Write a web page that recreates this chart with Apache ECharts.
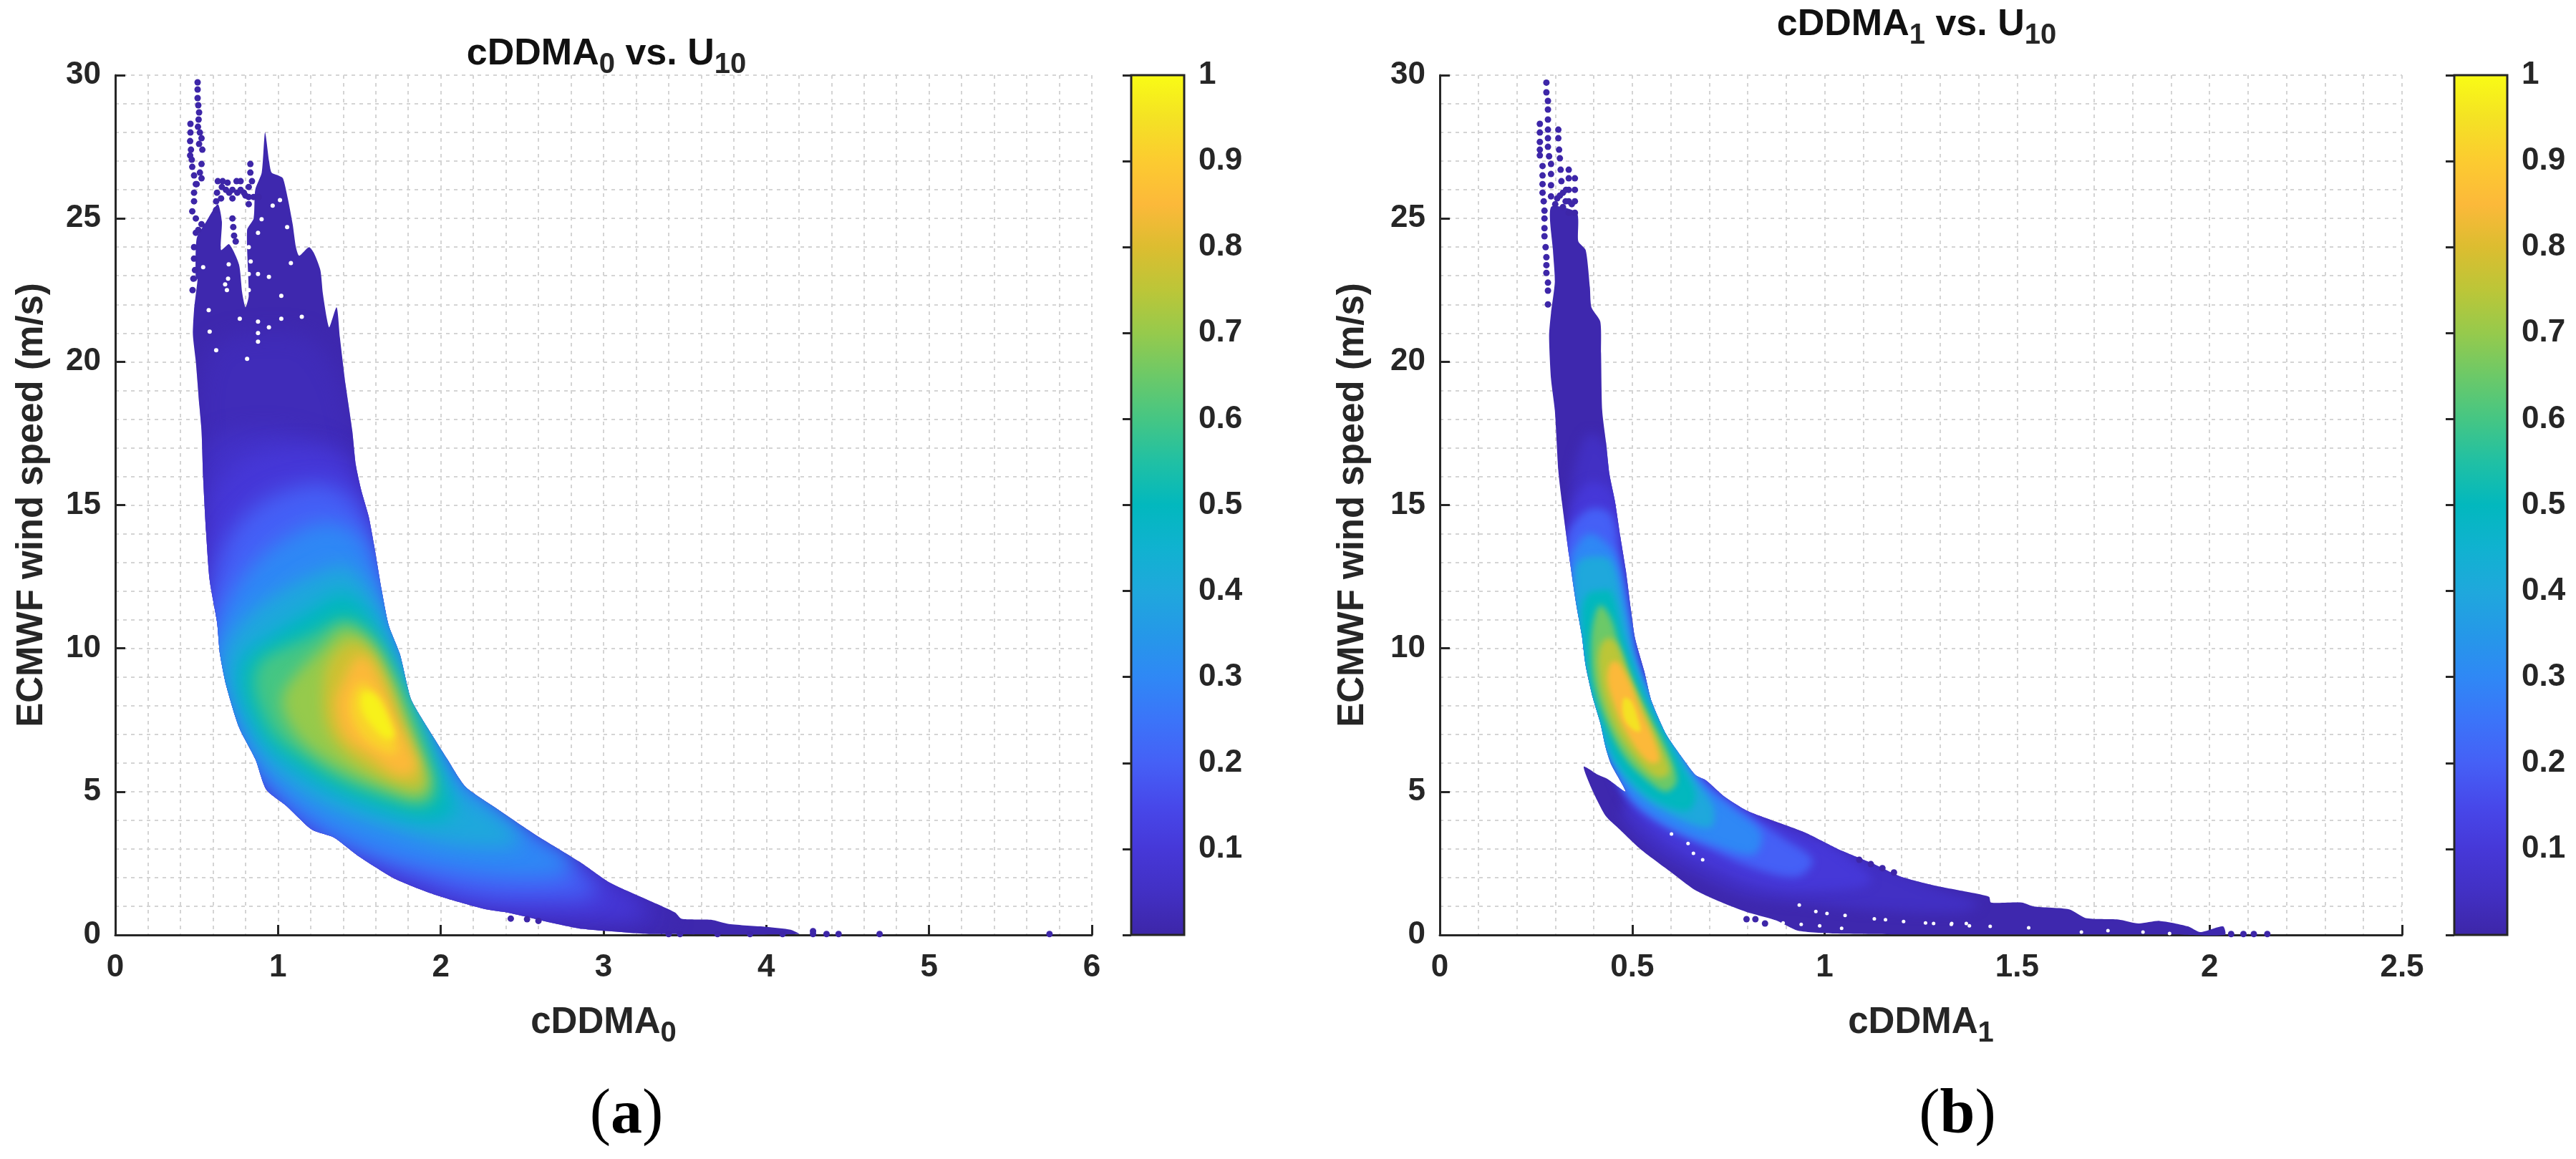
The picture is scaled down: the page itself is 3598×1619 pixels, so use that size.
<!DOCTYPE html>
<html><head><meta charset="utf-8"><style>html,body{margin:0;padding:0;background:#fff}#c{width:3598px;height:1619px}</style>
<script src="https://cdn.jsdelivr.net/npm/echarts@6/dist/echarts.min.js"></script></head><body><div id="c"></div>
<script>
// colormap stops, evenly spaced 0..1
const cmap=['#3d26a8','#4230c4','#4638d8','#4748ea','#4560f6','#3b74f9','#2f88f5','#2598e8','#1fa8dc','#10b2d0','#02b8be','#20c0a4','#45c684','#6cc968','#96ca4c','#bcc638','#dcbd30','#fcb93a','#fccb30','#f4e224','#f9fb15'];
const cbTicks=[0.1,0.2,0.3,0.4,0.5,0.6,0.7,0.8,0.9,1];

// Panel (a): iso-density outlines in data units [cDDMA0, U10]
const aLevels=[0.01,0.03,0.06,0.1,0.2,0.3,0.4,0.5,0.6,0.7,0.78,0.85,0.92,0.98];
const aBlur=[0,30,30,30,30,28,26,24,22,20,18,16,14,10];
const a001=[[.53,17.6],[.517,18.46],[.495,20],[.477,20.95],[.484,21.8],[.506,22.9],[.495,22.8],[.5,24.3],[.56,24.9],[.63,25.5],[.655,24.9],[.65,23.9],[.7,24.1],[.76,23.4],[.78,22.4],[.8,21.9],[.82,22.3],[.81,24.6],[.85,25],[.86,26],[.9,26.6],[.92,28],[.945,27],[.96,26.6],[1,26.5],[1.03,26.4],[1.06,25.7],[1.09,24.8],[1.11,24],[1.13,23.7],[1.19,24],[1.22,23.8],[1.26,23.2],[1.275,22.4],[1.3,21.5],[1.315,21.2],[1.36,21.9],[1.38,20.85],[1.415,19.2],[1.456,17.6],[1.478,16.4],[1.512,15.5],[1.557,14.6],[1.59,13.6],[1.636,12.05],[1.68,10.8],[1.748,9.81],[1.815,8.25],[1.88,7.58],[2.04,6.13],[2.15,5.18],[2.33,4.46],[2.58,3.5],[2.85,2.56],[3.03,1.85],[3.14,1.55],[3.3,1.15],[3.44,.78],[3.48,.56],[3.66,.53],[3.77,.38],[4,.28],[4.15,.18],[4.2,.03],[3.3,.03],[3.1,.1],[2.87,.21],[2.67,.44],[2.42,.77],[2.264,.91],[1.97,1.39],[1.725,1.94],[1.5,2.73],[1.344,3.4],[1.209,3.67],[1.05,4.51],[.928,5.07],[.861,6.13],[.76,7.25],[.682,8.7],[.643,9.81],[.625,10.93],[.58,12.38],[.558,14.05],[.54,15.95]];
const a003=[[.52,19],[.62,20.6],[.9,21],[1.2,20.8],[1.37,19.5],[1.46,17.6],[1.55,14.8],[1.64,12],[1.75,9.8],[1.88,7.6],[2.05,6.1],[2.33,4.45],[2.58,3.5],[2.85,2.55],[3.1,1.75],[3.3,1.15],[3.42,.75],[3.35,.3],[3.1,.15],[2.87,.22],[2.65,.45],[2.26,.92],[1.97,1.4],[1.72,1.95],[1.5,2.75],[1.34,3.4],[1.2,3.7],[1.05,4.5],[.93,5.1],[.86,6.1],[.76,7.25],[.68,8.7],[.64,9.8],[.62,10.9],[.58,12.4],[.555,14],[.54,16],[.525,17.6]];
const a006=[[.6,17.2],[.9,17.6],[1.2,17.3],[1.42,16.6],[1.5,15.4],[1.57,14],[1.63,12],[1.73,10],[1.86,8],[2.03,6.2],[2.3,4.6],[2.55,3.6],[2.8,2.7],[3.05,1.85],[3.2,1.25],[3.2,.85],[2.95,.55],[2.65,.6],[2.3,.95],[2,1.4],[1.75,1.95],[1.5,2.8],[1.35,3.45],[1.2,3.75],[1.06,4.5],[.94,5.2],[.87,6.2],[.77,7.3],[.69,8.7],[.65,9.8],[.62,11],[.59,12.4],[.565,14],[.55,16]];
const a010=[[1.187,16.96],[.85,16.73],[.625,15.62],[.569,14.05],[.57,12.38],[.59,10.48],[.65,8.6],[.73,7.1],[.88,5],[1.05,3.95],[1.33,2.9],[1.66,1.9],[2.08,1.15],[2.533,.8],[2.982,.66],[3.274,.66],[3.162,1.22],[2.848,2.22],[2.533,3.34],[2.242,4.57],[2.084,5.68],[1.9,7.8],[1.79,9.59],[1.67,11.6],[1.59,13.5],[1.5,15.5],[1.389,16.62]];
const a020=[[1.209,15.73],[.917,15.17],[.715,14.05],[.614,12.6],[.57,10.9],[.63,9],[.75,6.9],[.89,5.5],[1.12,4.05],[1.44,3],[1.8,2.1],[2.19,1.35],[2.646,1.22],[2.96,1.44],[2.87,2.22],[2.6,3.23],[2.309,4.46],[2.107,5.57],[1.94,7.47],[1.81,9.37],[1.72,11.15],[1.624,12.94],[1.523,14.72],[1.389,15.5]];
const a030=[[1.299,14.39],[1.074,13.94],[.85,12.94],[.67,11.38],[.6,9.8],[.68,8],[.81,6.3],[.97,5.1],[1.22,3.9],[1.55,2.95],[1.972,2.33],[2.421,2],[2.758,2.11],[2.803,2.56],[2.578,3.45],[2.331,4.46],[2.152,5.35],[1.995,6.8],[1.882,8.25],[1.77,9.92],[1.68,11.26],[1.59,12.94],[1.5,13.94]];
const a040=[[1.344,12.83],[1.03,12.04],[.782,10.93],[.67,9.81],[.681,8.81],[.782,7.36],[.895,6.24],[1.074,5.24],[1.344,4.34],[1.703,3.67],[2.107,3.12],[2.488,3.23],[2.331,4.23],[2.107,5.13],[1.972,6.46],[1.882,7.8],[1.77,9.37],[1.68,10.7],[1.568,12.04],[1.433,12.83]];
const a050=[[1.389,11.93],[1.209,11.38],[.94,10.37],[.782,9.59],[.76,8.7],[.827,7.58],[.94,6.58],[1.119,5.79],[1.344,5.01],[1.636,4.34],[1.927,3.95],[2.084,4.29],[2.04,5.13],[1.95,6.35],[1.838,7.8],[1.748,9.03],[1.636,10.37],[1.523,11.49]];
const a060=[[1.389,11.04],[1.209,10.48],[1.03,10.03],[.895,9.59],[.85,8.81],[.895,7.8],[.985,6.91],[1.164,6.13],[1.389,5.35],[1.658,4.79],[1.882,4.51],[1.972,4.9],[1.927,6.13],[1.838,7.58],[1.725,9.03],[1.59,10.37],[1.478,10.93]];
const a070=[[1.411,10.7],[1.276,10.03],[1.119,9.14],[1.03,8.36],[1.052,7.58],[1.164,6.68],[1.389,5.79],[1.658,5.13],[1.882,4.79],[1.927,5.35],[1.86,6.46],[1.77,7.8],[1.68,9.03],[1.568,10.15]];
const a078=[[1.456,10.26],[1.32,9.59],[1.276,8.47],[1.299,7.25],[1.411,6.35],[1.613,5.57],[1.815,5.13],[1.893,5.24],[1.87,6.02],[1.781,7.25],[1.68,8.81],[1.568,9.92]];
const a085=[[1.49,9.7],[1.389,8.7],[1.355,8.03],[1.411,6.91],[1.568,6.24],[1.748,5.57],[1.85,5.79],[1.815,6.46],[1.725,7.58],[1.636,8.81],[1.557,9.59]];
const a092=[[1.512,8.81],[1.445,8.14],[1.478,7.25],[1.59,6.58],[1.725,6.35],[1.703,7.13],[1.613,8.36]];
const a098=[[1.523,8.47],[1.602,8.36],[1.68,7.58],[1.714,6.91],[1.658,6.86],[1.568,7.36],[1.512,7.92]];
const aDots=[[.506,29.75],[.506,29.5],[.506,29.2],[.51,28.95],[.515,28.7],[.512,28.45],[.508,28.2],[.52,28],[.53,27.8],[.515,27.6],[.535,27.4],[.53,26.9],[.52,26.6],[.53,26.4],[.5,26.2],[.462,28.3],[.462,28],[.46,27.7],[.465,27.4],[.46,27.2],[.47,27.05],[.473,26.8],[.484,26.5],[.495,26.2],[.484,25.9],[.484,25.6],[.473,25.25],[.495,25],[.495,24.5],[.484,24],[.484,23.6],[.63,26.3],[.66,26.3],[.69,26.25],[.72,26],[.745,26.3],[.77,26.3],[.79,25.9],[.8,25.8],[.72,25.7],[.7,25.9],[.625,25.9],[.62,25.6],[.62,25.3],[.83,26.9],[.83,26.6],[.84,26.3],[.82,26.1],[.82,25.75],[.85,25.75],[.88,25.75],[.82,25.5],[.72,25],[.725,24.7],[.73,24.4],[.74,24.2],
[.48,22.9],[.475,22.5],[.49,23.2],[.51,24.6],[.53,24.8],[.655,26.1],[.68,26],[.75,25.9],[.77,26],[.65,25.7],
[2.43,.57],[2.53,.55],[2.6,.49],[4.287,.13],[4.287,.03],[4.37,.03],[4.444,.03],[4.696,.03],[5.74,.03],[3.4,.03],[3.47,.03],[3.7,.03],[3.9,.03],[4.1,.03]];
const aHoles=[[.574,21.8],[.58,21.05],[.877,20.7],[.944,21.2],[1.02,22.3],[1.02,21.5],[.765,21.5],[.693,22.9],[.54,23.3],[.675,22.7],[.686,22.5],[.832,23.5],[.877,23.06],[.944,22.96],[1.079,23.44],[.81,20.1],[.62,20.4],[1.146,21.57],[.899,24.97],[.877,24.5],[.967,25.45],[1.012,25.64],[1.056,24.7],[.697,23.4],[.82,23.06],[.82,22.5],[.82,24],[.877,21],[.877,21.4]];

// Panel (b)
const bLevels=[0.01,0.05,0.1,0.2,0.3,0.4,0.5,0.65,0.75,0.85,0.95];
const bBlur=[0,16,14,12,12,10,10,9,8,7,5];
const b001=[[.289,25.4],[.356,25.2],[.36,24.2],[.379,23.9],[.39,22.6],[.394,21.9],[.417,21.4],[.419,20.3],[.422,18.3],[.432,17.18],[.441,16.06],[.455,15.14],[.469,13.9],[.483,12.75],[.497,11.3],[.507,10.36],[.531,9.21],[.55,8.16],[.588,7],[.626,6.25],[.664,5.58],[.692,5.39],[.74,4.82],[.797,4.34],[.873,3.95],[.949,3.57],[1.034,3],[1.12,2.52],[1.196,2.04],[1.283,1.73],[1.379,1.48],[1.427,1.33],[1.432,1.13],[1.512,1.13],[1.544,.99],[1.635,.89],[1.678,.59],[1.763,.54],[1.816,.4],[1.87,.49],[1.944,.3],[1.976,.1],[2.035,.3],[2.04,0],[1.9,.02],[1.2,.02],[1.025,.05],[.93,.15],[.873,.51],[.797,.8],[.74,1.09],[.664,1.56],[.597,2.23],[.521,3],[.464,3.72],[.431,4.15],[.398,5],[.374,5.87],[.412,5.58],[.436,5.44],[.483,5],[.445,5.96],[.431,6.54],[.417,7.4],[.398,8.26],[.379,9.4],[.369,10.46],[.355,11.5],[.336,13.23],[.317,15.14],[.308,16.2],[.299,18.3],[.289,19.4],[.284,20.9],[.289,21.7],[.299,22.8],[.294,23.9]];
const b005=[[.39,17.5],[.46,16.5],[.48,14],[.51,11],[.55,8.8],[.62,6.3],[.7,5.2],[.8,4.4],[.95,3.5],[1.12,2.6],[1.28,1.7],[1.4,1.1],[1.35,.8],[1.15,.85],[.95,1.1],[.8,1.35],[.68,2],[.55,3],[.47,4.2],[.49,4.8],[.455,6],[.43,7],[.4,8.3],[.375,9.6],[.36,11],[.345,12.5],[.335,14],[.345,16]];
const b010=[[.39,15.8],[.45,15.4],[.47,13.8],[.49,12],[.515,10],[.55,8.7],[.6,7.1],[.66,5.9],[.74,4.9],[.82,4.2],[.93,3.6],[1.03,3],[1.12,1.85],[.95,1.55],[.82,1.75],[.7,2.4],[.6,3.1],[.52,4],[.47,5],[.44,6.1],[.41,7.3],[.385,8.6],[.37,9.8],[.355,11],[.345,12.2],[.335,13.5],[.34,14.8]];
const b020=[[.388,14.85],[.445,14.66],[.469,12.94],[.488,11.32],[.511,9.6],[.569,7.87],[.635,6.35],[.702,5.2],[.797,4.24],[.892,3.38],[.968,2.62],[.93,2.04],[.816,2.33],[.702,3],[.587,3.76],[.511,4.53],[.464,5.58],[.426,6.73],[.388,8.45],[.36,10.17],[.336,12.27],[.331,13.9]];
const b030=[[.388,14],[.445,13.5],[.469,12.75],[.493,11.03],[.516,9.4],[.559,8.07],[.616,6.63],[.673,5.39],[.759,4.43],[.835,3.57],[.816,2.81],[.702,3.19],[.588,3.86],[.493,4.81],[.45,5.87],[.412,7.01],[.388,8.45],[.364,10.17],[.345,11.89],[.34,12.9],[.348,13.4]];
const b040=[[.4,13.2],[.445,13.04],[.478,11.32],[.502,9.79],[.55,8.16],[.606,6.73],[.654,5.58],[.711,4.43],[.702,3.76],[.607,4.15],[.511,5],[.436,6.35],[.402,7.68],[.379,9.02],[.36,10.65],[.35,12.27],[.36,13]];
const b050=[[.41,12],[.445,11.98],[.474,10.55],[.502,9.4],[.54,8.16],[.588,6.92],[.626,5.96],[.664,4.91],[.645,4.34],[.569,4.62],[.511,5.2],[.455,6.15],[.417,7.49],[.388,8.83],[.374,10.17],[.369,11.32],[.385,11.9]];
const b065=[[.417,11.5],[.445,11.03],[.469,9.98],[.507,8.64],[.55,7.49],[.588,6.54],[.616,5.39],[.588,5],[.54,5.39],[.483,6.15],[.436,7.3],[.402,8.64],[.393,9.79],[.398,10.84]];
const b075=[[.436,10.36],[.459,10.17],[.493,9.02],[.531,7.87],[.569,6.73],[.597,5.68],[.569,5.48],[.521,5.96],[.464,7.01],[.426,8.26],[.412,9.4],[.417,10.07]];
const b085=[[.445,9.5],[.464,9.5],[.493,8.83],[.521,7.87],[.559,6.73],[.569,6.06],[.54,6.06],[.483,7.11],[.45,8.16],[.436,8.93]];
const b095=[[.478,8.26],[.497,8.16],[.516,7.49],[.521,7.11],[.502,7.16],[.478,7.59]];
const bDots=[[.277,29.74],[.277,29.4],[.281,29.1],[.281,28.8],[.281,28.45],[.281,28.1],[.281,27.8],[.281,27.5],[.284,27.17],[.289,26.9],[.289,26.55],[.289,26.16],[.289,25.77],[.26,28.3],[.26,28],[.26,27.67],[.26,27.4],[.26,27.2],[.267,26.83],[.267,26.5],[.267,26.2],[.267,25.9],[.27,25.6],[.272,25.27],[.272,25],[.272,24.66],[.272,24.38],[.275,24],[.277,23.65],[.277,23.37],[.277,23.1],[.281,22.76],[.281,22.48],[.281,22],[.308,28.1],[.308,27.8],[.31,27.4],[.312,27.1],[.314,26.7],[.316,26.3],[.32,25.9],[.32,25.4],[.335,26.7],[.335,26.4],[.335,26],[.335,25.6],[.335,25.2],[.351,26.4],[.351,26],[.351,25.6],[.351,25.2],[.30,25.5],[.305,25.7],[.312,25.8],[.327,25.6],[.343,25.5],[.328,26],[.797,.55],[.82,.55],[.845,.4],[2.056,.03],[2.088,.03],[2.115,.03],[2.15,.03],[1.09,2.62],[1.12,2.47],[1.15,2.33],[1.18,2.18]];
const bHoles=[[.934,1.04],[.977,.82],[1.006,.75],[1.053,.68],[1.129,.56],[1.158,.53],[1.205,.47],[1.262,.42],[1.329,.37],[1.376,.32],[.939,.37],[.892,.42],[.987,.32],[1.044,.23],[.602,3.52],[.645,3.19],[.659,2.85],[.683,2.62],[1.283,.4],[1.33,.4],[1.368,.4],[1.43,.3],[1.53,.25],[1.667,.1],[1.736,.15],[1.827,.1],[1.896,.05]];

const aContours=[a001,a003,a006,a010,a020,a030,a040,a050,a060,a070,a078,a085,a092,a098];
const bContours=[b001,b005,b010,b020,b030,b040,b050,b065,b075,b085,b095];

const FONT='"Liberation Sans",Arial,sans-serif', INK='#262626', OFF=6000, EDGE=0.22;
function colorAt(t){return echarts.color.lerp(t,cmap);}
const sub={fontSize:40,fontWeight:'bold',fontFamily:FONT,color:INK,padding:[30,0,0,0],verticalAlign:'bottom'};
function contourSeries(i,levels,contours,blurs){
  return {type:'custom',xAxisIndex:i,yAxisIndex:i,silent:true,animation:false,clip:false,z:3,
    data:levels.map((l,k)=>[k]),
    renderItem(p,api){
      const k=api.value(0), col=colorAt(levels[k]);
      const outer=contours[0].map(q=>api.coord(q));
      if(k===0) return {type:'polygon',shape:{points:outer,smooth:EDGE},style:{fill:col}};
      // only the soft shadow of the outline lands inside the plot, which blends neighbouring levels
      const pts=contours[k].map(q=>{const c=api.coord(q);return [c[0]-OFF,c[1]];});
      return {type:'group',clipPath:{type:'polygon',shape:{points:outer,smooth:EDGE}},children:[
        {type:'polygon',shape:{points:pts,smooth:0.35},
         style:{fill:col,shadowBlur:blurs[k],shadowColor:col,shadowOffsetX:OFF}}]};
    }};
}
function dotSeries(i,data,color,size){
  return {type:'scatter',xAxisIndex:i,yAxisIndex:i,silent:true,animation:false,clip:false,z:4,
    data,symbol:'circle',symbolSize:size,itemStyle:{color,opacity:1}};
}
function cbSeries(i){
  return {type:'custom',xAxisIndex:i,yAxisIndex:i,silent:true,animation:false,z:3,data:[[0,1,0,1]],
    renderItem(p,api){
      const a=api.coord([0,1]), b=api.coord([1,0]);
      return {type:'rect',shape:{x:a[0],y:a[1],width:b[0]-a[0],height:b[1]-a[1]},
        style:{fill:new echarts.graphic.LinearGradient(0,1,0,0,cmap.map((c,j)=>({offset:j/(cmap.length-1),color:c})))}};
    }};
}
const axisLine={show:true,onZero:false,lineStyle:{color:INK,width:3}};
const gridLine={show:true,lineStyle:{color:'#d4d4d4',width:2,type:[5,6]}};
const nameFont={fontFamily:FONT,fontSize:51,fontWeight:'bold',color:INK};
function xAx(grid,max,interval,minorN,nm){return {gridIndex:grid,type:'value',min:0,max,interval,
  name:nm,nameLocation:'middle',nameGap:88,nameTextStyle:Object.assign({},nameFont,{rich:{n:nameFont,sub}}),
  axisLine,axisTick:{show:true,inside:true,length:14,lineStyle:{color:INK,width:3}},
  axisLabel:{fontFamily:FONT,fontSize:44,fontWeight:'bold',color:INK,margin:24},
  splitLine:gridLine,minorTick:{show:false,splitNumber:minorN},minorSplitLine:gridLine};}
function yAx(grid,gap){return {gridIndex:grid,type:'value',min:0,max:30,interval:5,
  name:'ECMWF wind speed (m/s)',nameLocation:'middle',nameGap:gap,nameTextStyle:nameFont,
  axisLine,axisTick:{show:true,inside:true,length:14,lineStyle:{color:INK,width:3}},
  axisLabel:{fontFamily:FONT,fontSize:44,fontWeight:'bold',color:INK,margin:20},
  splitLine:gridLine,minorTick:{show:false,splitNumber:5},minorSplitLine:gridLine};}
function cbX(g){return {gridIndex:g,type:'value',min:0,max:1,show:false};}
function cbY(g){return {gridIndex:g,type:'value',position:'right',min:0,max:1,interval:.1,
  axisLine:{show:false},splitLine:{show:false},
  axisTick:{show:true,inside:true,length:12,lineStyle:{color:INK,width:3}},
  axisLabel:{fontFamily:FONT,fontSize:44,fontWeight:'bold',color:INK,margin:20,
    formatter:v=>cbTicks.some(t=>Math.abs(t-v)<1e-6)?String(+v.toFixed(1)):''}};}
const titleN={fontFamily:FONT,fontSize:52,fontWeight:'bold',color:'#111'};
const titleStyle=Object.assign({},titleN,{rich:{n:titleN,sub}});
const pS={fontFamily:'"Liberation Serif"',fontSize:88,fontWeight:'normal',color:'#000'};
const bS={fontFamily:'"Liberation Serif"',fontSize:88,fontWeight:'bold',color:'#000'};
const option={
  backgroundColor:'#fff',animation:false,
  title:[
    {text:'{n|cDDMA}{sub|0}{n| vs. U}{sub|10}',left:842,top:36,textAlign:'center',textStyle:titleStyle},
    {text:'{n|cDDMA}{sub|1}{n| vs. U}{sub|10}',left:2677,top:0,padding:0,textAlign:'center',textStyle:titleStyle},
    {text:'{p|(}{b|a}{p|)}',left:870,top:1510,textAlign:'center',textStyle:{fontWeight:'normal',rich:{p:pS,b:bS}}},
    {text:'{p|(}{b|b}{p|)}',left:2729,top:1510,textAlign:'center',textStyle:{fontWeight:'normal',rich:{p:pS,b:bS}}}
  ],
  grid:[
    {left:161,top:105,width:1364,height:1201},
    {left:2011,top:105,width:1344,height:1201},
    {left:1580,top:105,width:74,height:1201,show:true,borderColor:INK,borderWidth:3,backgroundColor:'transparent',z:5},
    {left:3428,top:105,width:74,height:1201,show:true,borderColor:INK,borderWidth:3,backgroundColor:'transparent',z:5}
  ],
  xAxis:[xAx(0,6,1,5,'{n|cDDMA}{sub|0}'),xAx(1,2.5,.5,5,'{n|cDDMA}{sub|1}'),cbX(2),cbX(3)],
  yAxis:[yAx(0,91),yAx(1,96),cbY(2),cbY(3)],
  series:[
    contourSeries(0,aLevels,aContours,aBlur),dotSeries(0,aDots,cmap[0],9),dotSeries(0,aHoles,'#fff',6),
    contourSeries(1,bLevels,bContours,bBlur),dotSeries(1,bDots,cmap[0],9),dotSeries(1,bHoles,'#fff',5),
    cbSeries(2),cbSeries(3)
  ]
};
echarts.init(document.getElementById('c'),null,{renderer:'canvas'}).setOption(option);
</script></body></html>
